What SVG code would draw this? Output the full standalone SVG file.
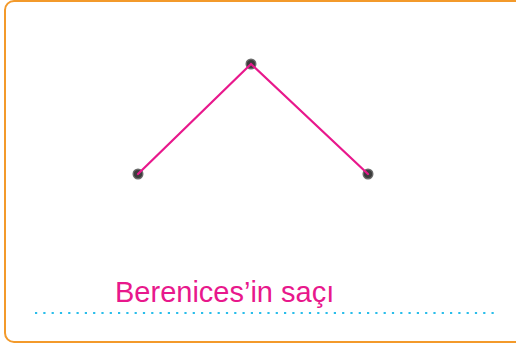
<svg xmlns="http://www.w3.org/2000/svg" width="516" height="344" viewBox="0 0 516 344">
<style>
.frame{fill:#fff;stroke:#f39a2b;stroke-width:2}
.star{fill:#3c3c3c;stroke:#6a6a6a;stroke-width:1.4}
.link{stroke:#e8188c;stroke-width:2.2;fill:none;stroke-linecap:round}
.label{font-family:"Liberation Sans",Arial,sans-serif;font-size:29px;fill:#e8188c}
.rule{stroke:#29bdea;stroke-width:2.2;stroke-dasharray:2.2 6.1}
</style>
<rect class="frame" x="5" y="1" width="530" height="341" rx="9"/>
<g id="stars">
<g id="star1"><circle class="star" cx="251" cy="64" r="4.8"/></g>
<g id="star2"><circle class="star" cx="138" cy="174" r="4.8"/></g>
<g id="star3"><circle class="star" cx="368" cy="174" r="4.8"/></g>
</g>
<g id="connectors">
<polyline class="link" points="138,174 251,64 368,174"/>
</g>
<g id="caption">
<text class="label" x="115" y="302">Berenices’in saçı</text>
<line class="rule" x1="35" y1="313" x2="496" y2="313"/>
</g>
</svg>
